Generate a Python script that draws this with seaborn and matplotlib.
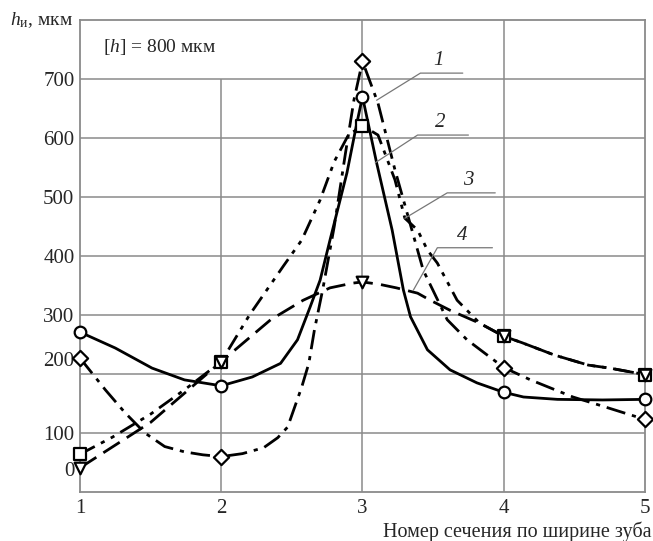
import numpy as np
import pandas as pd
import matplotlib
matplotlib.use("Agg")
import matplotlib.pyplot as plt
import seaborn as sns

sns.set_style("white")
plt.rcParams["font.family"] = ["Liberation Serif", "DejaVu Serif"]
plt.rcParams["mathtext.fontset"] = "custom"
plt.rcParams["mathtext.rm"] = "Liberation Serif"
plt.rcParams["mathtext.it"] = "Liberation Serif:italic"

# measured points (sections 1..5)
sections = [1, 2, 3, 4, 5]
h_diamond = [227, 60, 730, 211, 123]
h_circle = [271, 180, 670, 169, 157]
h_square = [64, 221, 621, 264, 199]
h_triangle = [41, 221, 356, 264, 199]

# curve traces
x1 = [1, 1.18, 1.32, 1.46, 1.60, 1.74, 1.87, 2, 2.15, 2.30, 2.40, 2.47, 2.57, 2.62, 2.66,
      2.72, 2.80, 2.88, 2.94, 3, 3.11, 3.23, 3.35, 3.43, 3.60, 3.74, 4, 4.19, 4.49, 4.68, 5]
y1 = [227, 173, 134, 100, 77, 68, 63, 60, 65, 75, 92, 110, 178, 218, 275,
      345, 450, 575, 665, 730, 659, 546, 444, 376, 292, 258, 211, 190, 161, 147, 123]

x2 = [1, 1.25, 1.51, 1.74, 2, 2.22, 2.42, 2.54, 2.63, 2.70, 2.77, 2.89, 2.96, 3, 3.10,
      3.21, 3.29, 3.34, 3.46, 3.62, 3.81, 4, 4.14, 4.38, 4.7, 5]
y2 = [271, 244, 210, 190, 180, 195, 218, 258, 314, 359, 427, 541, 625, 670, 558,
      444, 342, 297, 241, 207, 185, 169, 161, 157, 156, 157]

x3 = [1, 1.23, 1.5, 1.75, 2, 2.20, 2.44, 2.57, 2.70, 2.80, 2.90, 3, 3.11, 3.23, 3.30,
      3.39, 3.46, 3.53, 3.67, 3.83, 4, 4.13, 4.36, 4.60, 4.75, 5]
y3 = [64, 93, 132, 175, 221, 300, 383, 427, 495, 560, 605, 621, 605, 529, 464,
      444, 410, 388, 325, 286, 264, 253, 232, 215, 210, 199]

x4 = [1, 1.5, 2, 2.35, 2.58, 2.77, 2.93, 3, 3.12, 3.24, 3.39, 3.48, 3.62, 3.83, 4,
      4.13, 4.36, 4.60, 4.75, 5]
y4 = [41, 118, 221, 292, 325, 346, 354, 356, 352, 346, 337, 325, 308, 286, 264,
      253, 232, 215, 210, 199]

ytick_pos = [39, 100, 225, 300, 400, 500, 600, 700]
ytick_labels = ["0", "100", "200", "300", "400", "500", "600", "700"]

curves = pd.concat([
    pd.DataFrame({"x": x1, "h": y1, "curve": "1"}),
    pd.DataFrame({"x": x2, "h": y2, "curve": "2"}),
    pd.DataFrame({"x": x3, "h": y3, "curve": "3"}),
    pd.DataFrame({"x": x4, "h": y4, "curve": "4"}),
], ignore_index=True)

fig = plt.figure(figsize=(6.53, 5.41), dpi=100)
ax = fig.add_axes([0.1225, 0.0906, 0.8652, 0.8724])
grid_c = "#8a8a8a"

# grid
ax.hlines(np.arange(100, 800, 100), 1, 5, color=grid_c, lw=1.1, zorder=0)
ax.vlines(2, 0, 700, color=grid_c, lw=1.1, zorder=0)
ax.vlines([3, 4], 0, 800, color=grid_c, lw=1.1, zorder=0)

sns.lineplot(data=curves, x="x", y="h", hue="curve", style="curve",
             palette=["black"] * 4,
             dashes={"1": (7, 2.5, 1.5, 2.5), "2": "", "3": (6, 2.5, 1.5, 2.5, 1.5, 2.5),
                     "4": (7, 3)},
             sort=False, estimator=None, legend=False, lw=2.0, ax=ax, zorder=2)

for vals, mk, sz in [(h_diamond, "D", 60), (h_circle, "o", 70),
                     (h_square, "s", 70), (h_triangle, "v", 70)]:
    sns.scatterplot(x=sections, y=vals, marker=mk, s=sz, color="white",
                    edgecolor="black", linewidth=1.6, ax=ax, zorder=3, clip_on=False)

# leader lines with curve numbers
leaders = [("1", (3.10, 664), (3.41, 710), 3.71),
           ("2", (3.09, 558), (3.39, 605), 3.75),
           ("3", (3.30, 464), (3.60, 507), 3.94),
           ("4", (3.36, 342), (3.53, 414), 3.92)]
for num, p0, p1, xend in leaders:
    ax.plot([p0[0], p1[0], xend], [p0[1], p1[1], p1[1]], color="#777777", lw=0.9, zorder=4)
    ax.text((p1[0] + xend) / 2 - 0.02, p1[1] + 5, num, fontsize=15, style="italic",
            ha="center", va="bottom")

ax.text(1.16, 754, "[$h$] = 800 мкм", fontsize=14, va="center", ha="left")

ax.set_xlim(1, 5)
ax.set_ylim(0, 800)
ax.set_xticks(sections)
ax.set_xticklabels([str(s) for s in sections])
ax.set_yticks(ytick_pos)
ax.set_yticklabels(ytick_labels)
ax.tick_params(axis="both", length=0, labelsize=15)
ax.tick_params(axis="y", pad=4)
ax.tick_params(axis="x", pad=5)
ax.set_xlabel("")
ax.set_ylabel("")
for sp in ax.spines.values():
    sp.set_color(grid_c)
    sp.set_linewidth(1.3)

fig.text(0.998, 0.018, "Номер сечения по ширине зуба", fontsize=14.5, ha="right", va="center")
fig.text(0.015, 0.963, "$h_{\\mathrm{и}}$, мкм", fontsize=14, ha="left", va="center")

fig.savefig("out.png", dpi=100)
